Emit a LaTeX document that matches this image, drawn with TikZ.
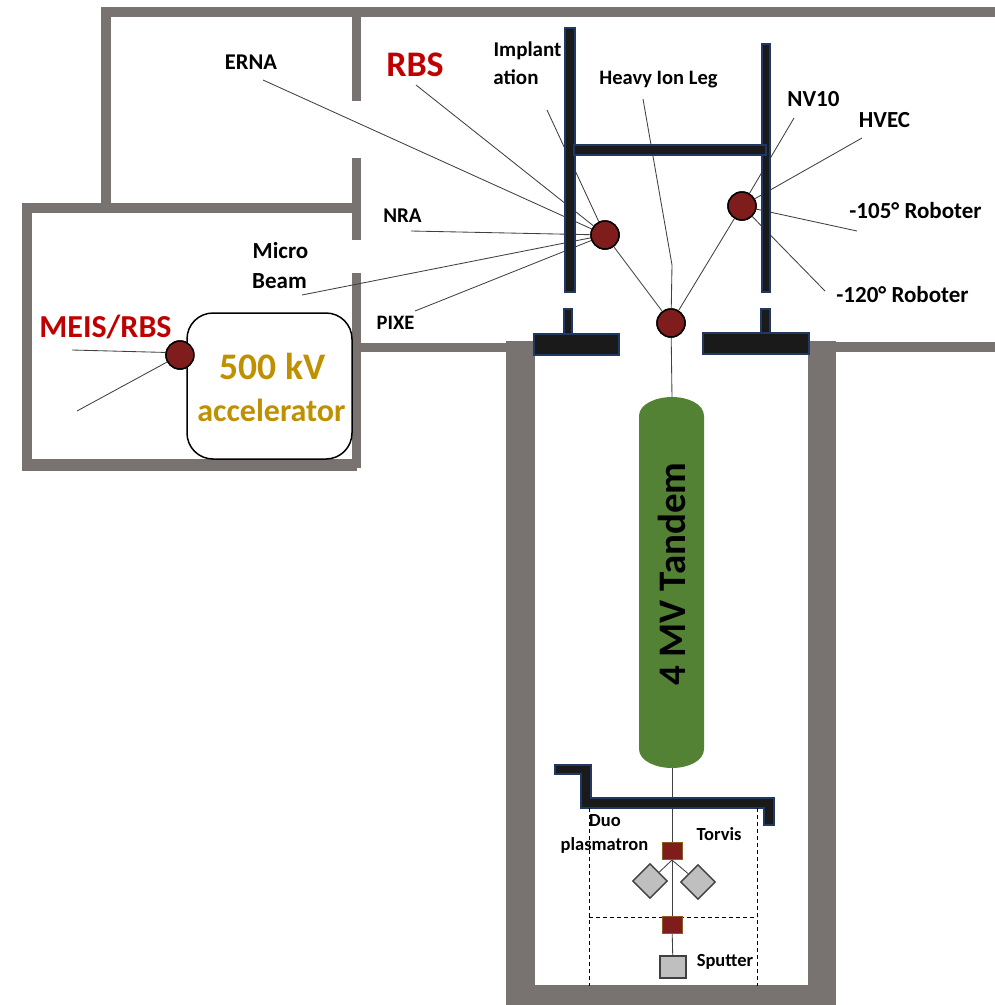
\documentclass[tikz,border=0pt]{standalone}
\usepackage{fontspec}
\setmainfont{Carlito}
\usetikzlibrary{shapes.geometric}
\definecolor{wallc}{HTML}{787371}
\definecolor{pipec}{HTML}{1A1A1A}
\definecolor{pipeb}{HTML}{1F3864}
\definecolor{stationc}{HTML}{7F1C1C}
\definecolor{tandemc}{HTML}{548235}
\definecolor{goldc}{HTML}{BF9000}
\definecolor{redc}{HTML}{C00000}
\definecolor{grayc}{HTML}{BFBFBF}
\definecolor{magb}{HTML}{8A5A1E}
\tikzset{
  wall/.style={fill=wallc,draw=none},
  pipe/.style={fill=pipec,draw=pipeb,line width=1.3pt},
  beam/.style={draw=black!75,line width=0.85pt},
  station/.style={circle,draw=black,line width=1.5pt,fill=stationc,minimum size=28pt,inner sep=0pt},
  magnet/.style={rectangle,draw=magb,line width=0.8pt,fill=stationc,minimum width=20pt,minimum height=17pt,inner sep=0pt},
  source/.style={rectangle,draw=black!75,line width=1.4pt,fill=grayc,inner sep=0pt},
  lab/.style={font=\bfseries\fontsize{#1}{#1}\selectfont,text=black,inner sep=0pt},
  lab/.default=21,
  biglab/.style={font=\bfseries\fontsize{#1}{#1}\selectfont,text=redc,inner sep=0pt},
  acclab/.style={font=\bfseries\fontsize{#1}{#1}\selectfont,text=goldc,inner sep=0pt},
  guide/.style={draw=black,line width=0.8pt,dash pattern=on 4pt off 3pt},
}
\begin{document}
\begin{tikzpicture}[x=1pt,y=-1pt]
\useasboundingbox (0,0) rectangle (995,1005);
% walls
\fill[wall] (101,7) rectangle (995,17);
\fill[wall] (101,7) rectangle (111,205);
\fill[wall] (22,203) rectangle (361,213);
\fill[wall] (22,203) rectangle (32,471);
\fill[wall] (22,459) rectangle (357,471);
\fill[wall] (352,17) rectangle (361,101);
\fill[wall] (352,158) rectangle (361,240);
\fill[wall] (352,273) rectangle (361,468);
\fill[wall] (352,343) rectangle (535,352);
\fill[wall] (808,342) rectangle (995,352);
\fill[wall] (506,341) rectangle (535,1005);
\fill[wall] (808,341) rectangle (836,1005);
\fill[wall] (506,985) rectangle (836,1005);
% free beam ends
\coordinate (ernaEnd) at (263,80);
\coordinate (rbsEnd) at (416,85);
\coordinate (implEnd) at (547,110);
\coordinate (nraEnd) at (411,231);
\coordinate (microEnd) at (302,295);
\coordinate (pixeEnd) at (415,311);
\coordinate (nvEnd) at (794,118);
\coordinate (hvecEnd) at (862,138);
\coordinate (r105End) at (857,231);
\coordinate (r120End) at (825,291);
\coordinate (heavyEnd) at (643,99);
\coordinate (heavyBend) at (672,265);
\coordinate (meisA) at (72,350);
\coordinate (meisB) at (77,411);
\coordinate (magFork) at (672,860);
% stations (placed first so beams can reference them)
\node[station] (stL) at (605,235) {};
\node[station] (stR) at (742,206) {};
\node[station] (stC) at (671,323) {};
\node[station] (stM) at (180,355) {};
\node[magnet] (magA) at (672,851) {};
\node[magnet] (magB) at (672,925) {};
\node[source,diamond,aspect=1,minimum size=35pt] (dL) at (650,881) {};
\node[source,diamond,aspect=1,minimum size=35pt] (dR) at (698,882) {};
\node[source,minimum width=26pt,minimum height=22pt] (sput) at (673,967) {};
\coordinate (tandemTop) at (672,398);
\coordinate (tandemBot) at (672,768);
% beams
\draw[beam] (ernaEnd) -- (stL);
\draw[beam] (rbsEnd) -- (stL);
\draw[beam] (implEnd) -- (stL);
\draw[beam] (nraEnd) -- (stL);
\draw[beam] (microEnd) -- (stL);
\draw[beam] (pixeEnd) -- (stL);
\draw[beam] (nvEnd) -- (stR);
\draw[beam] (hvecEnd) -- (stR);
\draw[beam] (r105End) -- (stR);
\draw[beam] (r120End) -- (stR);
\draw[beam] (heavyEnd) -- (heavyBend) -- (stC);
\draw[beam] (stC) -- (stL);
\draw[beam] (stC) -- (stR);
\draw[beam] (stC) -- (tandemTop);
\draw[beam] (meisA) -- (stM.170);
\draw[beam] (meisB) -- (stM);
\draw[beam] (tandemBot) -- (magA);
\draw[beam] (magA) -- (magB);
\draw[beam] (magB) -- (sput);
\draw[beam] (magFork) -- (dL);
\draw[beam] (magFork) -- (dR);
% pipes
\filldraw[pipe] (565,28) rectangle (575,292);
\filldraw[pipe] (762,44) rectangle (770,292);
\filldraw[pipe] (574,145) rectangle (766,155);
\filldraw[pipe] (564,309) rectangle (572,336);
\filldraw[pipe] (761,309) rectangle (770,336);
\filldraw[pipe] (534,334) rectangle (619,355);
\filldraw[pipe] (703,333) rectangle (809,354);
\filldraw[pipe] (555,765) -- (591,765) -- (591,798) -- (774,798) -- (774,825) -- (764,825) -- (764,808) -- (581,808) -- (581,774) -- (555,774) -- cycle;
% tandem
\fill[tandemc] (639,416) .. controls (639,404) and (656,397) .. (672,397) .. controls (688,397) and (704,404) .. (704,416) -- (704,749) .. controls (704,761) and (688,768) .. (672,768) .. controls (656,768) and (639,761) .. (639,749) -- cycle;
\node[lab=39,rotate=90] (tandemLab) at (672,574) {4 MV Tandem};
% accelerator
\node[draw=black,line width=1.5pt,fill=white,rounded corners=26pt,minimum width=165pt,minimum height=146pt,inner sep=0pt] (acc) at (269.5,386) {};
\node[acclab=37.5] (accA) at (272.5,366) {500 kV};
\node[acclab=32] (accB) at (271.5,410) {accelerator};
% front items
\node[station] at (stM) {};
\node[station] at (stL) {};
\node[station] at (stR) {};
\node[station] at (stC) {};
% dashed source room
\draw[guide] (589,808) -- (589,986);
\draw[guide] (757,808) -- (757,986);
\draw[guide] (589,917) -- (757,917);
\node[magnet] at (magA) {};
\node[magnet] at (magB) {};
% labels
\node[lab=22.5] (lErna) at (251,62) {ERNA};
\node[biglab=36] (lRbs) at (415,65) {RBS};
\node[lab=21] (lImplA) at (527.5,51) {Implant};
\node[lab=21] (lImplB) at (516,77) {ation};
\node[lab=20.5] (lHeavy) at (658.5,80) {Heavy Ion Leg};
\node[lab=23] (lNv) at (813.5,99) {NV10};
\node[lab=23] (lHvec) at (884.5,120) {HVEC};
\node[lab=23] (lR105) at (915.5,211) {-105° Roboter};
\node[lab=23] (lR120) at (902.5,295) {-120° Roboter};
\node[lab=21] (lNra) at (402.5,216) {NRA};
\node[lab=23] (lMicro) at (280.5,251) {Micro};
\node[lab=23] (lBeam) at (279.5,281) {Beam};
\node[lab=20.5] (lPixe) at (395.5,323) {PIXE};
\node[biglab=32] (lMeis) at (105.5,327) {MEIS/RBS};
\node[lab=18.5] (lDuo) at (605,821) {Duo};
\node[lab=18.5] (lPlasma) at (604.5,845) {plasmatron};
\node[lab=18.5] (lTorvis) at (719,834) {Torvis};
\node[lab=18.5] (lSput) at (725,962) {Sputter};
\end{tikzpicture}
\end{document}
